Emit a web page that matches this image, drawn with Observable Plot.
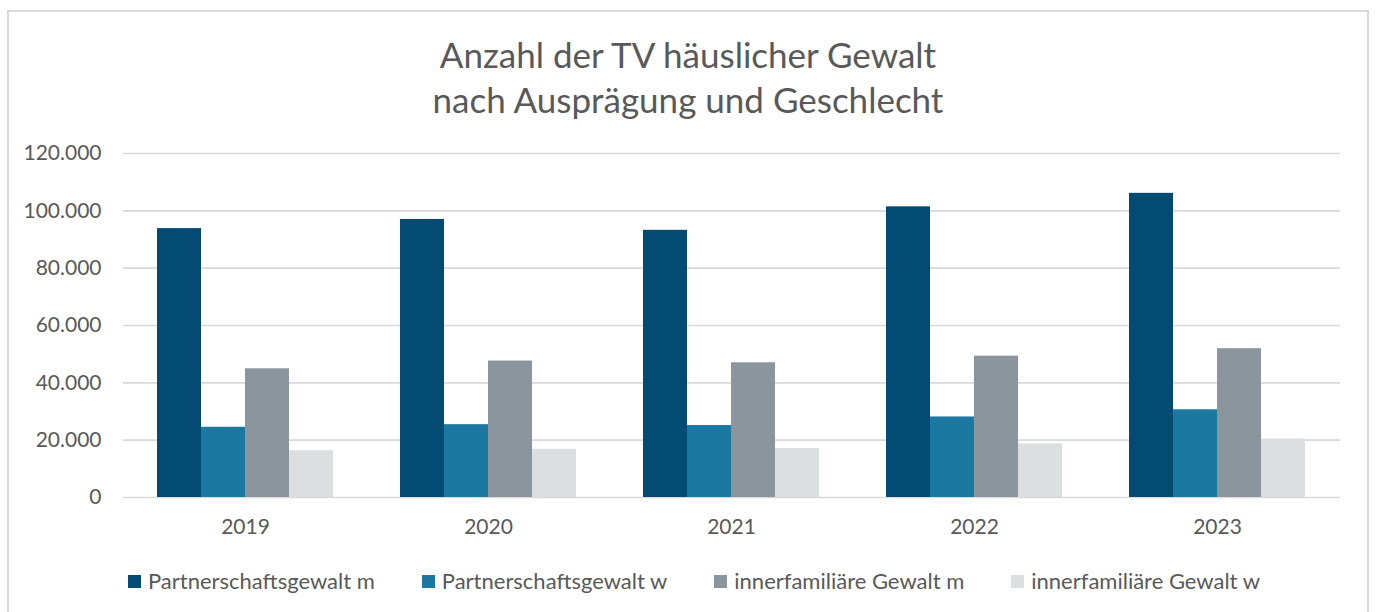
<!DOCTYPE html>
<html>
<head>
<meta charset="utf-8">
<script src="https://cdn.jsdelivr.net/npm/d3@7"></script>
<script src="https://cdn.jsdelivr.net/npm/@observablehq/plot@0.6"></script>
<style>
  html, body { margin: 0; padding: 0; background: #ffffff; }
  #wrap { position: relative; width: 1376px; height: 612px; overflow: hidden; font-family: Lato, "Noto Sans", sans-serif; color: #595959; }
  #frame { position: absolute; left: 7px; top: 10px; width: 1362px; height: 620px; border: 2px solid #d9d9d9; box-sizing: border-box; }
  #title { position: absolute; left: 0; top: 32px; width: 1376px; text-align: center; font-size: 35px; line-height: 45px; color: #595959; }
  #chart { position: absolute; left: 0; top: 140px; }
  #legend { position: absolute; left: 0; top: 567px; width: 1388px; display: flex; justify-content: center; gap: 47px; font-size: 22px; line-height: 28px; color: #595959; }
  .item { display: flex; align-items: center; }
  .sw { width: 13px; height: 13px; margin-right: 7px; }
</style>
</head>
<body>
<div id="wrap">
  <div id="frame"></div>
  <div id="title">Anzahl der TV häuslicher Gewalt<br>nach Ausprägung und Geschlecht</div>
  <div id="chart"></div>
  <div id="legend"></div>
</div>
<script>
const years = ["2019", "2020", "2021", "2022", "2023"];
const series = ["Partnerschaftsgewalt m", "Partnerschaftsgewalt w", "innerfamiliäre Gewalt m", "innerfamiliäre Gewalt w"];
const partnerM = [93800, 97000, 93200, 101400, 106100];
const partnerW = [24500, 25400, 25100, 28100, 30600];
const familyM = [44900, 47600, 47000, 49300, 51900];
const familyW = [16300, 16800, 17100, 18700, 20400];
const yTicks = [0, 20000, 40000, 60000, 80000, 100000, 120000];
const colors = ["#034b73", "#1b78a0", "#8a959d", "#dcdfe0"];

const valuesBySeries = [partnerM, partnerW, familyM, familyW];
const rows = [];
series.forEach((s, i) => years.forEach((y, j) => rows.push({year: y, series: s, value: valuesBySeries[i][j]})));

const de = d3.formatLocale({decimal: ",", thousands: ".", grouping: [3], currency: ["", " €"]});
const fmt = de.format(",.0f");

const base = {
  width: 1376,
  height: 400,
  marginLeft: 123,
  marginRight: 36,
  marginTop: 13,
  marginBottom: 43,
  style: {fontFamily: "Lato, 'Noto Sans', sans-serif", fontSize: "21px", color: "#595959", background: "transparent", overflow: "visible"},
  x: {domain: years, paddingInner: 0.274, paddingOuter: 0.1385},
  y: {domain: [0, 120000]},
  color: {domain: series, range: colors}
};

const probe = Plot.plot({...base, marks: [Plot.barY(rows, {x: "year", y: "value"})]});
const bw = probe.scale("x").bandwidth;
const sub = bw / series.length;

const chart = Plot.plot({
  ...base,
  marks: [
    Plot.gridY(yTicks, {stroke: "#d9d9d9", strokeOpacity: 1, strokeWidth: 1.6}),
    ...series.map((s, i) => Plot.barY(rows.filter(d => d.series === s), {
      x: "year", y: "value", fill: "series",
      insetLeft: i * sub, insetRight: (series.length - 1 - i) * sub
    })),
    Plot.axisY(yTicks, {tickSize: 0, tickPadding: 22, tickFormat: fmt, fill: "#595959", label: null}),
    Plot.axisX({tickSize: 0, tickPadding: 22, fill: "#595959", label: null})
  ]
});
document.getElementById("chart").appendChild(chart);

const legend = document.getElementById("legend");
series.forEach((s, i) => {
  const item = document.createElement("div");
  item.className = "item";
  const sw = document.createElement("span");
  sw.className = "sw";
  sw.style.background = chart.scale("color").apply(s);
  const t = document.createElement("span");
  t.textContent = s;
  item.appendChild(sw);
  item.appendChild(t);
  legend.appendChild(item);
});
</script>
</body>
</html>
